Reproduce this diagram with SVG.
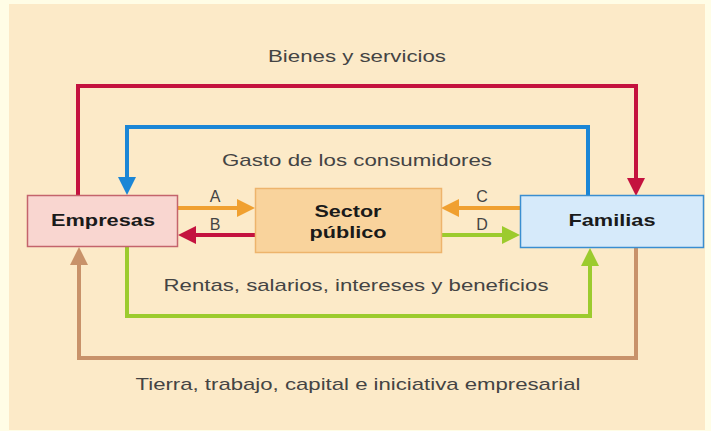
<svg xmlns="http://www.w3.org/2000/svg" width="711" height="431" viewBox="0 0 711 431">
  <style>
    .lbl { font-family: "Liberation Sans", Arial, sans-serif; font-size: 17px; fill: #444; text-anchor: middle; }
    .ab { font-family: "Liberation Sans", Arial, sans-serif; font-size: 16px; fill: #444; text-anchor: middle; }
    .nt { font-family: "Liberation Sans", Arial, sans-serif; font-size: 17px; font-weight: bold; fill: #1a1a1a; text-anchor: middle; }
    .ln { fill: none; stroke-width: 4; stroke-linejoin: miter; }
  </style>
  <defs>
    <marker id="mRed" markerUnits="userSpaceOnUse" markerWidth="18" markerHeight="18" refX="10" refY="9" orient="auto"><path d="M0,0 L18,9 L0,18 z" fill="#C4123F"/></marker>
    <marker id="mBlue" markerUnits="userSpaceOnUse" markerWidth="18" markerHeight="18" refX="10" refY="9" orient="auto"><path d="M0,0 L18,9 L0,18 z" fill="#1B86D6"/></marker>
    <marker id="mGreen" markerUnits="userSpaceOnUse" markerWidth="18" markerHeight="18" refX="10" refY="9" orient="auto"><path d="M0,0 L18,9 L0,18 z" fill="#9CCB2E"/></marker>
    <marker id="mTan" markerUnits="userSpaceOnUse" markerWidth="18" markerHeight="18" refX="10" refY="9" orient="auto"><path d="M0,0 L18,9 L0,18 z" fill="#C8926A"/></marker>
    <marker id="mOrange" markerUnits="userSpaceOnUse" markerWidth="18" markerHeight="18" refX="10" refY="9" orient="auto"><path d="M0,0 L18,9 L0,18 z" fill="#F0A030"/></marker>
  </defs>

  <rect x="0" y="0" width="711" height="431" fill="#FFFDE6"/>
  <rect x="9" y="4" width="696" height="426" fill="#FCEAC8"/>

  <g id="connectors">
    <path class="ln" stroke="#C4123F" d="M78,196 V86 H636 V188" marker-end="url(#mRed)"/>
    <path class="ln" stroke="#1B86D6" d="M588,196 V127 H127 V187" marker-end="url(#mBlue)"/>
    <path class="ln" stroke="#9CCB2E" d="M127,247 V316 H590 V256" marker-end="url(#mGreen)"/>
    <path class="ln" stroke="#C8926A" d="M636,248 V358 H79 V255" marker-end="url(#mTan)"/>
    <path class="ln" stroke="#F0A030" d="M177,208 H247" marker-end="url(#mOrange)"/>
    <path class="ln" stroke="#C4123F" d="M255,235 H186" marker-end="url(#mRed)"/>
    <path class="ln" stroke="#F0A030" d="M520,208 H449" marker-end="url(#mOrange)"/>
    <path class="ln" stroke="#9CCB2E" d="M441,235 H512" marker-end="url(#mGreen)"/>
    <text class="lbl" x="357" y="62" textLength="178" lengthAdjust="spacingAndGlyphs">Bienes y servicios</text>
    <text class="lbl" x="357" y="166" textLength="270" lengthAdjust="spacingAndGlyphs">Gasto de los consumidores</text>
    <text class="lbl" x="356" y="291" textLength="385" lengthAdjust="spacingAndGlyphs">Rentas, salarios, intereses y beneficios</text>
    <text class="lbl" x="358" y="390" textLength="445" lengthAdjust="spacingAndGlyphs">Tierra, trabajo, capital e iniciativa empresarial</text>
    <text class="ab" x="215" y="202">A</text>
    <text class="ab" x="215" y="230">B</text>
    <text class="ab" x="482" y="202">C</text>
    <text class="ab" x="482" y="230">D</text>
  </g>

  <g id="empresas">
    <rect x="27.5" y="195.5" width="150" height="51" fill="#F9D6D0" stroke="#C4646C" stroke-width="1.5"/>
    <text class="nt" x="103" y="226" textLength="104" lengthAdjust="spacingAndGlyphs">Empresas</text>
  </g>
  <g id="sector">
    <rect x="255.5" y="188.5" width="186" height="64" fill="#F9D39C" stroke="#EDB46C" stroke-width="1.5"/>
    <text class="nt" x="348" y="217" textLength="67" lengthAdjust="spacingAndGlyphs">Sector</text>
    <text class="nt" x="348" y="238" textLength="77" lengthAdjust="spacingAndGlyphs">público</text>
  </g>
  <g id="familias">
    <rect x="520.5" y="195.5" width="183" height="52" fill="#D6EAFA" stroke="#3A8ED0" stroke-width="1.5"/>
    <text class="nt" x="612" y="226" textLength="87" lengthAdjust="spacingAndGlyphs">Familias</text>
  </g>
</svg>
